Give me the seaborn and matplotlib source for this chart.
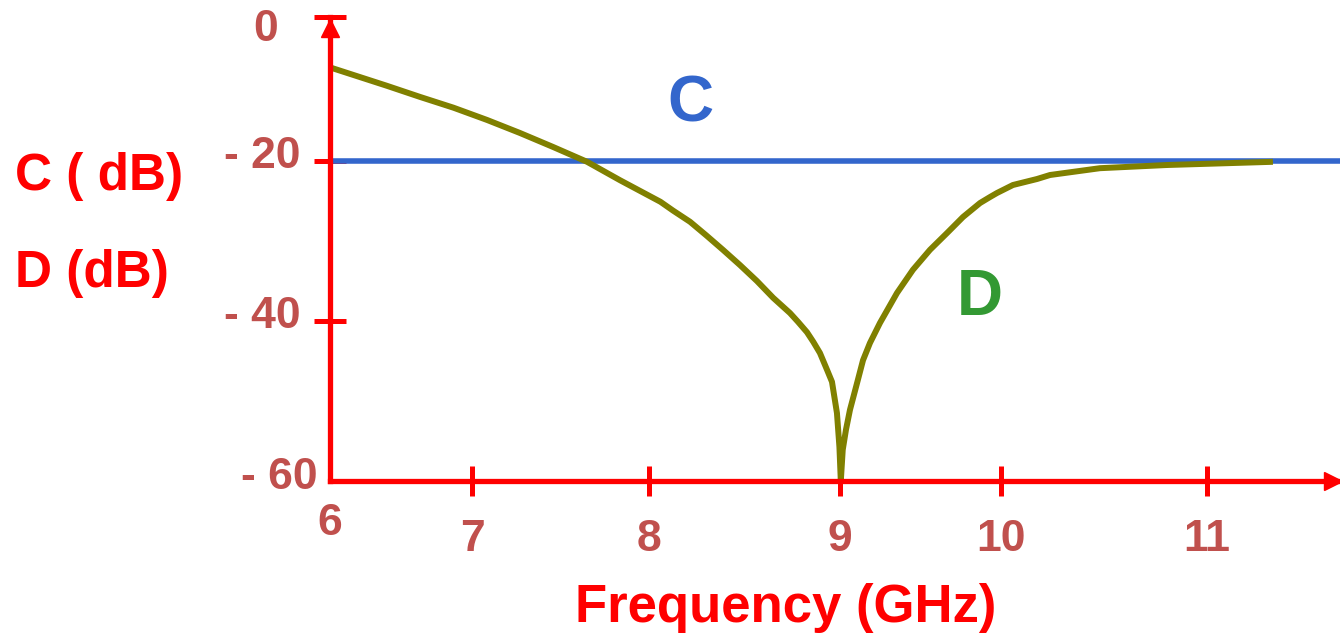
import numpy as np
import matplotlib
matplotlib.use("Agg")
import matplotlib.pyplot as plt
import seaborn as sns
from matplotlib.transforms import ScaledTranslation

# ---------------- data ----------------
x_ticks = [6, 7, 8, 9, 10, 11]
x_tick_labels = ["6", "7", "8", "9", "10", "11"]
y_ticks = [-60, -40, -20, 0]
y_tick_labels = ["- 60", "- 40", "- 20", "0"]

freq_c = [6.0, 11.65]
c_db = [-20.0, -20.0]

freq_d = [6.0, 6.40, 6.634, 6.87, 7.085, 7.27, 7.458, 7.65, 7.836, 8.06,
          8.126, 8.215, 8.30, 8.387, 8.476, 8.565, 8.65, 8.738, 8.78, 8.827,
          8.86, 8.895, 8.932, 8.958, 8.984, 8.997, 9.005, 9.017, 9.037, 9.062,
          9.106, 9.143, 9.186, 9.248, 9.354, 9.453, 9.559, 9.665, 9.764, 9.870,
          9.932, 9.975, 10.058, 10.175, 10.238, 10.48, 10.806, 11.32]
d_db = [-7.0, -9.55, -11.1, -12.6, -14.3, -16.1, -18.05, -20.1, -22.4, -25.1,
        -26.2, -27.6, -29.3, -31.1, -33.0, -35.0, -37.1, -39.0, -40.1, -41.4,
        -42.6, -44.0, -46.1, -47.6, -51.5, -55.75, -60.0, -56.1, -53.6, -51.1,
        -47.75, -44.9, -42.75, -40.25, -36.5, -33.6, -31.1, -29.0, -27.0, -25.25,
        -24.5, -24.0, -23.0, -22.25, -21.75, -20.9, -20.5, -20.1]

# ---------------- style ----------------
RED = "#FF0000"
LABEL_C = "#C0504D"
BLUE = "#3366CC"
OLIVE = "#808000"
GREEN = "#339933"

sns.set_theme(style="white")
plt.rcParams["font.family"] = ["Liberation Sans", "DejaVu Sans"]

W_PX, H_PX = 1340, 635
fig = plt.figure(figsize=(W_PX / 100, H_PX / 100), dpi=100)

# axes box in pixels (left, right, top, bottom)
AX_L, AX_R, AX_T, AX_B = 330, 1340, 17, 481
ax = fig.add_axes([AX_L / W_PX, 1 - AX_B / H_PX, (AX_R - AX_L) / W_PX, (AX_B - AX_T) / H_PX])

# non-uniform axes of the original drawing (tick placement, in pixels from origin)
X_TICK_POS = [0, 142, 319, 510, 671, 877]
Y_TICK_POS = [0, 160, 320, 464]


def piecewise(src, dst):
    src = np.asarray(src, float)
    dst = np.asarray(dst, float)

    def f(v):
        v = np.asarray(v, float)
        out = np.interp(v, src, dst)
        lo_slope = (dst[1] - dst[0]) / (src[1] - src[0])
        hi_slope = (dst[-1] - dst[-2]) / (src[-1] - src[-2])
        out = np.where(v < src[0], dst[0] + (v - src[0]) * lo_slope, out)
        out = np.where(v > src[-1], dst[-1] + (v - src[-1]) * hi_slope, out)
        return out
    return f


fx, ix = piecewise(x_ticks, X_TICK_POS), piecewise(X_TICK_POS, x_ticks)
fy, iy = piecewise(y_ticks, Y_TICK_POS), piecewise(Y_TICK_POS, y_ticks)

sns.lineplot(x=freq_c, y=c_db, color=BLUE, linewidth=4.0, ax=ax,
             estimator=None, sort=False, solid_capstyle="butt")
sns.lineplot(x=freq_d, y=d_db, color=OLIVE, linewidth=4.3, ax=ax,
             estimator=None, sort=False, solid_capstyle="butt",
             solid_joinstyle="round")

ax.set_xscale("function", functions=(fx, ix))
ax.set_yscale("function", functions=(fy, iy))
ax.set_xlim(6, float(ix(AX_R - AX_L)))
ax.set_ylim(-60, 0)
ax.set_xlabel("")
ax.set_ylabel("")

ax.set_xticks(x_ticks, labels=x_tick_labels)
ax.set_yticks(y_ticks, labels=y_tick_labels)
ax.minorticks_off()

for side in ["top", "right"]:
    ax.spines[side].set_visible(False)
for side in ["left", "bottom"]:
    ax.spines[side].set_color(RED)
    ax.spines[side].set_linewidth(3.8)

ax.tick_params(axis="x", which="major", bottom=True, direction="inout", length=22.3,
               width=3.6, color=RED, labelcolor=LABEL_C, labelsize=32, pad=16.5)
ax.tick_params(axis="y", which="major", left=True, direction="inout", length=23,
               width=3.6, color=RED, labelcolor=LABEL_C, labelsize=32, pad=9.4)
for lab in ax.get_xticklabels() + ax.get_yticklabels():
    lab.set_fontweight("bold")

xt = ax.xaxis.get_major_ticks()
yt = ax.yaxis.get_major_ticks()
xt[0].tick1line.set_visible(False)
yt[0].tick1line.set_visible(False)
for t in xt + yt:
    t.tick1line.set_zorder(3)

# individual label nudges (pixels)
x_off = {0: (0, 16)}
y_off = {0: (17, 8), 1: (0, 9), 2: (0, 9), 3: (-23, -8)}
for i, t in enumerate(xt):
    dx, dy = x_off.get(i, (0, 0))
    t.label1.set_transform(t.label1.get_transform() + ScaledTranslation(dx / 100, dy / 100, fig.dpi_scale_trans))
for i, t in enumerate(yt):
    dx, dy = y_off.get(i, (0, 0))
    t.label1.set_transform(t.label1.get_transform() + ScaledTranslation(dx / 100, dy / 100, fig.dpi_scale_trans))

# axis arrow heads
ax.plot([0], [(AX_B - 28) / (AX_B - AX_T)], marker="^", ms=12.5, color=RED,
        transform=ax.transAxes, clip_on=False, zorder=5)
ax.plot([(1333 - AX_L) / (AX_R - AX_L)], [0], marker=">", ms=12.5, color=RED,
        transform=ax.transAxes, clip_on=False, zorder=5)

# texts
fig.text(15 / W_PX, 1 - 190 / H_PX, "C ( dB)", color=RED, fontsize=37,
         fontweight="bold", ha="left", va="baseline")
fig.text(15 / W_PX, 1 - 287 / H_PX, "D (dB)", color=RED, fontsize=37,
         fontweight="bold", ha="left", va="baseline")
fig.text(786 / W_PX, 1 - 622 / H_PX, "Frequency (GHz)", color=RED, fontsize=38,
         fontweight="bold", ha="center", va="baseline")
fig.text(690 / W_PX, 1 - 122 / H_PX, "C", color=BLUE, fontsize=46,
         fontweight="bold", ha="center", va="baseline")
fig.text(980 / W_PX, 1 - 315 / H_PX, "D", color=GREEN, fontsize=46,
         fontweight="bold", ha="center", va="baseline")

fig.savefig("out.png", dpi=100)
